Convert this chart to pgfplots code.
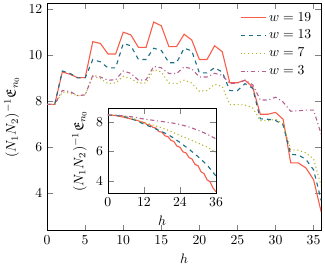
\documentclass[border=0pt]{standalone}
\usepackage{amssymb}
\usepackage{pgfplots}
\pgfplotsset{compat=1.18}
\definecolor{cred}{HTML}{F95D4A}
\definecolor{cteal}{HTML}{1A6E85}
\definecolor{colive}{HTML}{B5B52A}
\definecolor{cpink}{HTML}{B5608F}
\begin{document}
\begin{tikzpicture}
\begin{axis}[
  name=main,
  scale only axis,
  width=200pt, height=166pt,
  xmin=0, xmax=36, ymin=2.35, ymax=12.25,
  xtick={0,5,...,35}, ytick={4,6,8,10,12},
  xlabel={$h$}, ylabel={$(N_1N_2)^{-1}\mathfrak{E}_{n_0}$},
  legend style={draw=none, fill=none, at={(0.99,0.985)}, anchor=north east, row sep=1pt},
  legend cell align=left,
  legend image code/.code={\draw[#1] (0cm,0cm) -- (0.65cm,0cm);},
]
\addplot[cred, thick] coordinates {
(0,7.85)(1,7.85)(2,9.26)(3,9.16)(4,9.01)(5,9.01)(6,10.58)(7,10.5)(8,10.04)(9,10.04)
(10,10.99)(11,10.87)(12,10.33)(13,10.33)(14,11.43)(15,11.27)(16,10.36)(17,10.36)
(18,10.9)(19,10.65)(20,9.8)(21,9.8)(22,10.4)(23,10.14)(24,8.79)(25,8.79)(26,8.9)
(27,8.6)(28,7.42)(29,7.42)(30,7.5)(31,7.2)(32,5.3)(33,5.3)(34,5.08)(35,4.57)(36,3.17)};
\addlegendentry{$w=19$}
\addplot[cteal, thick, dashed] coordinates {
(0,7.85)(1,7.85)(2,9.3)(3,9.2)(4,9.0)(5,9.0)(6,9.8)(7,9.7)(8,9.44)(9,9.44)
(10,10.5)(11,10.4)(12,9.8)(13,9.8)(14,10.29)(15,10.2)(16,9.66)(17,9.66)
(18,10.29)(19,10.18)(20,9.22)(21,9.22)(22,9.44)(23,9.26)(24,8.45)(25,8.45)(26,8.75)
(27,8.55)(28,7.22)(29,7.2)(30,7.15)(31,6.95)(32,5.67)(33,5.65)(34,5.45)(35,5.0)(36,3.66)};
\addlegendentry{$w=13$}
\addplot[colive, thick, dotted] coordinates {
(0,7.85)(1,7.85)(2,8.38)(3,8.34)(4,8.23)(5,8.26)(6,9.07)(7,8.97)(8,8.75)(9,8.78)
(10,9.07)(11,8.97)(12,8.78)(13,8.78)(14,9.36)(15,9.26)(16,8.78)(17,8.75)
(18,8.9)(19,8.78)(20,8.42)(21,8.45)(22,8.72)(23,8.63)(24,7.84)(25,7.84)(26,7.82)
(27,7.7)(28,7.14)(29,7.14)(30,7.2)(31,7.0)(32,5.88)(33,5.85)(34,5.74)(35,5.47)(36,4.3)};
\addlegendentry{$w=7$}
\addplot[cpink, thick, dashdotted] coordinates {
(0,7.85)(1,7.85)(2,8.45)(3,8.41)(4,8.23)(5,8.26)(6,9.11)(7,9.04)(8,8.9)(9,8.92)
(10,9.3)(11,9.2)(12,8.9)(13,8.92)(14,9.5)(15,9.44)(16,9.19)(17,9.19)
(18,9.48)(19,9.4)(20,9.04)(21,9.04)(22,9.2)(23,9.11)(24,8.75)(25,8.78)(26,8.9)
(27,8.7)(28,8.04)(29,8.04)(30,8.16)(31,7.95)(32,7.55)(33,7.57)(34,7.6)(35,7.6)(36,6.55)};
\addlegendentry{$w=3$}
\end{axis}
\begin{axis}[
  at={(44.3pt,27.3pt)}, anchor=south west,
  scale only axis,
  width=79pt, height=62pt,
  xmin=0, xmax=36, ymin=3.2, ymax=8.9,
  xtick={0,12,24,36}, ytick={4,6,8},
  xlabel={$h$}, ylabel={$(N_1N_2)^{-1}\mathfrak{E}_{n_0}$},
  axis background/.style={fill=white},
]
\addplot[cred, thick] coordinates {
(0,8.45)(1,8.44)(2,8.43)(3,8.40)(4,8.36)(5,8.32)(6,8.27)(7,8.22)(8,8.17)(9,8.12)
(10,8.08)(11,7.98)(12,7.96)(13,7.81)(14,7.79)(15,7.62)(16,7.58)(17,7.34)(18,7.30)
(19,7.05)(20,7.0)(21,6.75)(22,6.67)(23,6.36)(24,6.29)(25,5.98)(26,5.91)(27,5.60)
(28,5.50)(29,5.14)(30,5.05)(31,4.64)(32,4.52)(33,4.11)(34,3.97)(35,3.55)(36,3.3)};
\addplot[cteal, thick, dashed] coordinates {
(0,8.45)(3,8.42)(6,8.32)(9,8.12)(12,7.84)(15,7.6)(18,7.34)(21,7.02)(24,6.61)
(27,6.16)(30,5.66)(33,5.1)(36,4.35)};
\addplot[colive, thick, dotted] coordinates {
(0,8.45)(3,8.43)(6,8.35)(9,8.18)(12,7.95)(15,7.78)(18,7.59)(21,7.35)(24,7.07)
(27,6.83)(30,6.57)(33,6.3)(36,5.95)};
\addplot[cpink, thick, dashdotted] coordinates {
(0,8.45)(3,8.44)(6,8.38)(9,8.3)(12,8.18)(15,8.1)(18,8.02)(21,7.93)(24,7.82)
(27,7.65)(30,7.43)(33,7.17)(36,6.85)};
\end{axis}
\end{tikzpicture}
\end{document}
